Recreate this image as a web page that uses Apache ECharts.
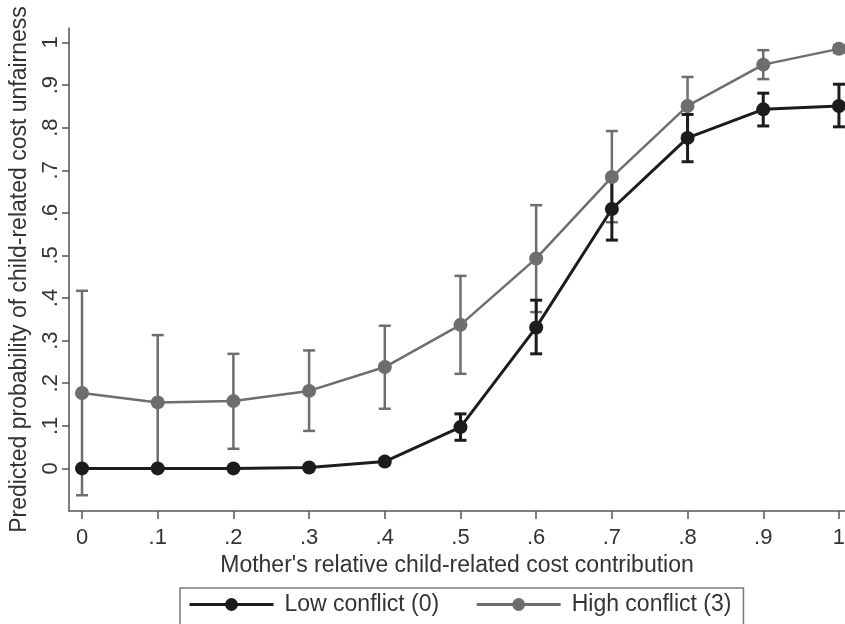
<!DOCTYPE html>
<html>
<head>
<meta charset="utf-8">
<script src="https://cdn.jsdelivr.net/npm/echarts@6/dist/echarts.min.js"></script>
<style>
  html, body { margin: 0; padding: 0; background: #fff; }
  #chart { width: 845px; height: 624px; }
</style>
</head>
<body>
<div id="chart"></div>
<script>
// Mother's relative share of child-related costs
const shares = [0, 0.1, 0.2, 0.3, 0.4, 0.5, 0.6, 0.7, 0.8, 0.9, 1];
const shareLabels = ['0', '.1', '.2', '.3', '.4', '.5', '.6', '.7', '.8', '.9', '1'];
const probTicks = [0, 0.1, 0.2, 0.3, 0.4, 0.5, 0.6, 0.7, 0.8, 0.9, 1];
const probLabels = ['0', '.1', '.2', '.3', '.4', '.5', '.6', '.7', '.8', '.9', '1'];

// Low conflict (0): predicted probability and 95% CI
const lowMean  = [0.000, 0.000, 0.000, 0.002, 0.016, 0.097, 0.331, 0.609, 0.776, 0.843, 0.851];
const lowLower = [0.000, 0.000, 0.000, 0.000, 0.010, 0.066, 0.269, 0.536, 0.720, 0.804, 0.802];
const lowUpper = [0.000, 0.000, 0.001, 0.004, 0.022, 0.128, 0.395, 0.682, 0.831, 0.881, 0.902];

// High conflict (3): predicted probability and 95% CI
const highMean  = [0.177, 0.155, 0.158, 0.182, 0.238, 0.337, 0.493, 0.684, 0.851, 0.948, 0.985];
const highLower = [-0.063, -0.003, 0.046, 0.088, 0.140, 0.222, 0.367, 0.578, 0.783, 0.914, 0.976];
const highUpper = [0.417, 0.313, 0.269, 0.277, 0.335, 0.452, 0.618, 0.792, 0.919, 0.982, 0.994];

const FONT = '"Liberation Sans", Arial, Helvetica, sans-serif';
const TEXT = '#333333';
const AXIS = '#555555';
const DARK = '#1c1c1c';
const GREY = '#6e6e6e';

function pairs(ys) { return shares.map((x, i) => [x, ys[i]]); }
function ciRows(lo, hi) { return shares.map((x, i) => [x, lo[i], hi[i]]); }

function capBars(color, width) {
  return function (params, api) {
    const x = api.value(0);
    const lo = api.coord([x, api.value(1)]);
    const hi = api.coord([x, api.value(2)]);
    const half = 6;
    const style = { stroke: color, lineWidth: width };
    return {
      type: 'group',
      children: [
        { type: 'line', shape: { x1: lo[0], y1: lo[1], x2: hi[0], y2: hi[1] }, style },
        { type: 'line', shape: { x1: lo[0] - half, y1: lo[1], x2: lo[0] + half, y2: lo[1] }, style },
        { type: 'line', shape: { x1: hi[0] - half, y1: hi[1], x2: hi[0] + half, y2: hi[1] }, style }
      ]
    };
  };
}

const chart = echarts.init(document.getElementById('chart'), null, { renderer: 'canvas' });
chart.setOption({
  animation: false,
  backgroundColor: '#ffffff',
  textStyle: { fontFamily: FONT },
  grid: { left: 69, right: 0, top: 28, height: 483, outerBoundsMode: 'none', containLabel: false },
  legend: {
    data: ['Low conflict (0)', 'High conflict (3)'],
    left: 180,
    top: 588,
    padding: [5, 12, 10, 8],
    itemWidth: 84,
    itemHeight: 16,
    itemGap: 36,
    borderColor: '#7a7a7a',
    borderWidth: 1.5,
    lineStyle: { width: 3 },
    textStyle: { fontSize: 23, color: TEXT, fontFamily: FONT, padding: [0, 0, 0, 6] }
  },
  xAxis: {
    type: 'value',
    min: -0.0172,
    max: 1.008,
    name: "Mother's relative child-related cost contribution",
    nameLocation: 'middle',
    nameGap: 35,
    nameTextStyle: { fontSize: 23, color: TEXT, fontFamily: FONT },
    axisLine: { show: true, onZero: false, lineStyle: { color: AXIS, width: 1.5 } },
    axisTick: { show: true, length: 8, customValues: shares, lineStyle: { color: AXIS, width: 1.5 } },
    axisLabel: {
      customValues: shares,
      margin: 16,
      fontSize: 22,
      color: TEXT,
      fontFamily: FONT,
      formatter: v => shareLabels[shares.findIndex(s => Math.abs(s - v) < 1e-6)] ?? ''
    },
    splitLine: { show: false }
  },
  yAxis: {
    type: 'value',
    min: -0.1,
    max: 1.034,
    name: 'Predicted probability of child-related cost unfairness',
    nameLocation: 'middle',
    nameGap: 38,
    nameTextStyle: { fontSize: 23, color: TEXT, fontFamily: FONT },
    axisLine: { show: true, onZero: false, lineStyle: { color: AXIS, width: 1.5 } },
    axisTick: { show: true, length: 7, customValues: probTicks, lineStyle: { color: AXIS, width: 1.5 } },
    axisLabel: {
      customValues: probTicks,
      rotate: 90,
      margin: 7,
      fontSize: 22,
      color: TEXT,
      fontFamily: FONT,
      formatter: v => probLabels[probTicks.findIndex(s => Math.abs(s - v) < 1e-6)] ?? ''
    },
    splitLine: { show: false }
  },
  series: [
    {
      name: 'High conflict CI',
      type: 'custom',
      data: ciRows(highLower, highUpper),
      renderItem: capBars(GREY, 2.5),
      z: 1,
      silent: true
    },
    {
      name: 'Low conflict CI',
      type: 'custom',
      data: ciRows(lowLower, lowUpper),
      renderItem: capBars(DARK, 3),
      z: 2,
      silent: true
    },
    {
      name: 'High conflict (3)',
      type: 'line',
      data: pairs(highMean),
      symbol: 'circle',
      symbolSize: 14,
      color: GREY,
      itemStyle: { color: GREY },
      lineStyle: { color: GREY, width: 2.5 },
      z: 3
    },
    {
      name: 'Low conflict (0)',
      type: 'line',
      data: pairs(lowMean),
      symbol: 'circle',
      symbolSize: 14,
      color: DARK,
      itemStyle: { color: DARK },
      lineStyle: { color: DARK, width: 3 },
      z: 4
    }
  ]
});
</script>
</body>
</html>
